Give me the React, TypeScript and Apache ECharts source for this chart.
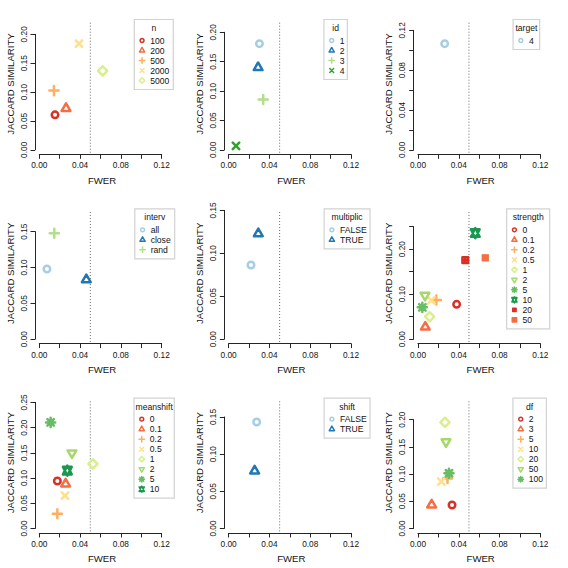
import React, { useEffect, useRef } from "react";
import * as echarts from "echarts";

// ---------- data ----------
const nLevels = ["100", "200", "500", "2000", "5000"];
const nFwer = [0.0154, 0.0262, 0.0144, 0.0389, 0.0621];
const nJaccard = [0.0605, 0.0716, 0.1026, 0.1838, 0.1366];

const idLevels = ["1", "2", "3", "4"];
const idFwer = [0.0302, 0.0289, 0.0339, 0.0072];
const idJaccard = [0.1807, 0.14, 0.0856, 0.0068];

const targetLevels = ["4"];
const targetFwer = [0.0262];
const targetJaccard = [0.1066];

const intervLevels = ["all", "close", "rand"];
const intervFwer = [0.0075, 0.0461, 0.0147];
const intervJaccard = [0.0978, 0.083, 0.1477];

const multiplicLevels = ["FALSE", "TRUE"];
const multiplicFwer = [0.0219, 0.0291];
const multiplicJaccard = [0.0863, 0.1229];

const strengthLevels = ["0", "0.1", "0.2", "0.5", "1", "2", "5", "10", "20", "50"];
const strengthFwer = [0.0379, 0.0072, 0.018, 0.0131, 0.0114, 0.0069, 0.0043, 0.0562, 0.0464, 0.066];
const strengthJaccard = [0.0773, 0.0268, 0.087, 0.086, 0.0498, 0.0973, 0.0706, 0.2357, 0.1755, 0.1807];

const meanshiftLevels = ["0", "0.1", "0.2", "0.5", "1", "2", "5", "10"];
const meanshiftFwer = [0.0177, 0.0258, 0.0177, 0.0252, 0.0526, 0.032, 0.0111, 0.0275];
const meanshiftJaccard = [0.0942, 0.0883, 0.0292, 0.065, 0.128, 0.1498, 0.2102, 0.1147];

const shiftLevels = ["FALSE", "TRUE"];
const shiftFwer = [0.0275, 0.0255];
const shiftJaccard = [0.1433, 0.0775];

const dfLevels = ["2", "3", "5", "10", "20", "50", "100"];
const dfFwer = [0.0334, 0.0134, 0.029, 0.0229, 0.0265, 0.0275, 0.0304];
const dfJaccard = [0.0431, 0.0432, 0.092, 0.0862, 0.1951, 0.1593, 0.1015];

const REF_FWER = 0.05;
const X_TITLE = "FWER";
const Y_TITLE = "JACCARD SIMILARITY";

// ---------- styles ----------
const RDYLGN8 = ["#D73027", "#F46D43", "#FDAE61", "#FEE08B", "#D9EF8B", "#A6D96A", "#66BD63", "#1A9850"];
const PAIRED = ["#A6CEE3", "#1F78B4", "#B2DF8A", "#33A02C"];
const FONT = "'Liberation Sans', Arial, Helvetica, sans-serif";
const TEXT = "#141414";
const AXIS = "#252525";

// R-like pch shapes, all in a common frame (padded so that relative sizes are kept)
const PAD = "M-60,-60 M60,60 ";
const SHAPES = [
  { d: "M37.5,0 A37.5,37.5 0 1,1 -37.5,0 A37.5,37.5 0 1,1 37.5,0 Z", filled: false },
  { d: "M0,-58.3 L50.5,29.2 L-50.5,29.2 Z", filled: false },
  { d: "M-53,0 L53,0 M0,-53 L0,53", filled: false },
  { d: "M-37.5,-37.5 L37.5,37.5 M-37.5,37.5 L37.5,-37.5", filled: false },
  { d: "M0,-53 L53,0 L0,53 L-53,0 Z", filled: false },
  { d: "M0,58.3 L50.5,-29.2 L-50.5,-29.2 Z", filled: false },
  { d: "M-53,0 L53,0 M0,-53 L0,53 M-37.5,-37.5 L37.5,37.5 M-37.5,37.5 L37.5,-37.5", filled: false },
  { d: "M0,-58.3 L50.5,43.7 L-50.5,43.7 Z M0,58.3 L50.5,-43.7 L-50.5,-43.7 Z", filled: false },
  { d: "M-33,-33 L33,-33 L33,33 L-33,33 Z M-33,0 L33,0 M0,-33 L0,33", filled: false },
  { d: "M-42,-42 L42,-42 L42,42 L-42,42 Z", filled: true },
];

type Panel = {
  title: string;
  levels: string[];
  fwer: number[];
  jac: number[];
  palette: string[];
  yMax: number;
  yStep: number;
  yLabelEvery: number;
  gridTop: number;
  boxLeft: number;
  boxRight: number;
};

const PANELS: Panel[] = [
  { title: "n", levels: nLevels, fwer: nFwer, jac: nJaccard, palette: RDYLGN8, yMax: 0.2, yStep: 0.05, yLabelEvery: 1, gridTop: 34.3, boxLeft: 134.3, boxRight: 173.3 },
  { title: "id", levels: idLevels, fwer: idFwer, jac: idJaccard, palette: PAIRED, yMax: 0.2, yStep: 0.05, yLabelEvery: 1, gridTop: 32.3, boxLeft: 134.6, boxRight: 158 },
  { title: "target", levels: targetLevels, fwer: targetFwer, jac: targetJaccard, palette: PAIRED, yMax: 0.12, yStep: 0.02, yLabelEvery: 2, gridTop: 30.3, boxLeft: 134.4, boxRight: 161 },
  { title: "interv", levels: intervLevels, fwer: intervFwer, jac: intervJaccard, palette: PAIRED, yMax: 0.15, yStep: 0.05, yLabelEvery: 1, gridTop: 42.3, boxLeft: 134.8, boxRight: 174.7 },
  { title: "multiplic", levels: multiplicLevels, fwer: multiplicFwer, jac: multiplicJaccard, palette: PAIRED, yMax: 0.15, yStep: 0.05, yLabelEvery: 1, gridTop: 21, boxLeft: 134.8, boxRight: 180.7 },
  { title: "strength", levels: strengthLevels, fwer: strengthFwer, jac: strengthJaccard, palette: RDYLGN8, yMax: 0.25, yStep: 0.05, yLabelEvery: 2, gridTop: 37.3, boxLeft: 128, boxRight: 171 },
  { title: "meanshift", levels: meanshiftLevels, fwer: meanshiftFwer, jac: meanshiftJaccard, palette: RDYLGN8, yMax: 0.25, yStep: 0.05, yLabelEvery: 1, gridTop: 23.7, boxLeft: 134, boxRight: 174.3 },
  { title: "shift", levels: shiftLevels, fwer: shiftFwer, jac: shiftJaccard, palette: PAIRED, yMax: 0.15, yStep: 0.05, yLabelEvery: 1, gridTop: 38.3, boxLeft: 134.8, boxRight: 180.7 },
  { title: "df", levels: dfLevels, fwer: dfFwer, jac: dfJaccard, palette: RDYLGN8, yMax: 0.2, yStep: 0.05, yLabelEvery: 1, gridTop: 41, boxLeft: 134.3, boxRight: 167.7 },
];

// ---------- layout ----------
const SIZE = 568;
const CELL = SIZE / 3;
const X0 = 39.3; // x of FWER = 0 inside a cell
const XW = 122.4; // width from 0 to 0.12
const Y0 = 149.8; // y of Jaccard = 0 inside a cell
const BOX_TOP = 19.5;
const PLOT_TOP = 22.7;
const PLOT_BOTTOM = 154.5;
const SYM = 10.4;
const LEG_SYM = 6.2;

const cellOf = (i: number) => ({ cx: (i % 3) * CELL, cy: Math.floor(i / 3) * CELL });

function buildOption() {
  const grid: any[] = [];
  const xAxis: any[] = [];
  const yAxis: any[] = [];
  const series: any[] = [];
  const legend: any[] = [];

  PANELS.forEach((p, i) => {
    const { cx, cy } = cellOf(i);
    grid.push({ left: cx + X0, top: cy + p.gridTop, width: XW, height: Y0 - p.gridTop, containLabel: false });
    xAxis.push({
      type: "value",
      gridIndex: i,
      min: 0,
      max: 0.12,
      interval: 0.02,
      offset: 4.5,
      axisLine: { show: true, onZero: false, lineStyle: { color: AXIS, width: 1 } },
      axisTick: { show: true, length: 4.5, lineStyle: { color: AXIS, width: 1 } },
      axisLabel: {
        fontSize: 8.3,
        fontFamily: FONT,
        color: TEXT,
        margin: 7,
        formatter: (v: number) => (Math.round(v / 0.02) % 2 === 0 ? v.toFixed(2) : ""),
      },
      splitLine: { show: false },
    });
    yAxis.push({
      type: "value",
      gridIndex: i,
      min: 0,
      max: p.yMax,
      interval: p.yStep,
      offset: 4.3,
      axisLine: { show: true, onZero: false, lineStyle: { color: AXIS, width: 1 } },
      axisTick: { show: true, length: 4.5, lineStyle: { color: AXIS, width: 1 } },
      axisLabel: {
        rotate: 90,
        fontSize: 8.3,
        fontFamily: FONT,
        color: TEXT,
        margin: 7.5,
        formatter: (v: number) => (Math.round(v / p.yStep) % p.yLabelEvery === 0 ? v.toFixed(2) : ""),
      },
      splitLine: { show: false },
    });

    const names: string[] = [];
    p.levels.forEach((lv, j) => {
      const shape = SHAPES[j % SHAPES.length];
      const col = p.palette[j % p.palette.length];
      const name = `${i}|${lv}`;
      names.push(name);
      series.push({
        type: "scatter",
        name,
        xAxisIndex: i,
        yAxisIndex: i,
        data: [[p.fwer[j], p.jac[j]]],
        symbol: "path://" + PAD + shape.d,
        symbolSize: SYM,
        symbolKeepAspect: true,
        silent: true,
        z: 3,
        itemStyle: {
          color: shape.filled ? col : "rgba(0,0,0,0)",
          borderColor: col,
          borderWidth: shape.filled ? 0 : 2.5,
          borderJoin: "round",
          borderCap: "round",
          opacity: 1,
        },
        emphasis: { disabled: true },
      });
    });

    legend.push({
      show: true,
      orient: "vertical",
      left: cx + p.boxLeft + 7 - LEG_SYM / 2,
      top: cy + BOX_TOP + 21 - 5,
      itemWidth: LEG_SYM,
      itemHeight: LEG_SYM,
      itemGap: 0,
      padding: 0,
      selectedMode: false,
      symbolKeepAspect: true,
      data: names,
      formatter: (name: string) => name.split("|")[1],
      textStyle: { fontSize: 8.6, fontFamily: FONT, color: TEXT, lineHeight: 10 },
      itemStyle: { borderWidth: 1.5, borderJoin: "round", borderCap: "round" },
    });
  });

  return {
    animation: false,
    backgroundColor: "#ffffff",
    textStyle: { fontFamily: FONT },
    grid,
    xAxis,
    yAxis,
    series,
    legend,
  };
}

function buildGraphics(refX: number[]) {
  const els: any[] = [];
  PANELS.forEach((p, i) => {
    const { cx, cy } = cellOf(i);
    els.push({
      type: "line",
      z: 1,
      silent: true,
      shape: { x1: refX[i], y1: cy + PLOT_TOP, x2: refX[i], y2: cy + PLOT_BOTTOM },
      style: { stroke: "#6a6a6a", lineWidth: 1, lineDash: [1, 2] },
    });
    els.push({
      type: "text",
      x: cx + 102,
      y: cy + 180,
      silent: true,
      style: { text: X_TITLE, fontSize: 9.6, fontFamily: FONT, fill: TEXT, textAlign: "center", textVerticalAlign: "middle" },
    });
    els.push({
      type: "text",
      x: cx + 10,
      y: cy + 84,
      rotation: Math.PI / 2,
      silent: true,
      style: { text: Y_TITLE, fontSize: 9.6, fontFamily: FONT, fill: TEXT, textAlign: "center", textVerticalAlign: "middle" },
    });
    const n = p.levels.length;
    els.push({
      type: "rect",
      z: 1,
      silent: true,
      shape: { x: cx + p.boxLeft, y: cy + BOX_TOP, width: p.boxRight - p.boxLeft, height: 10 * n + 20 },
      style: { fill: "#ffffff", stroke: "#d2d2d2", lineWidth: 1.2 },
    });
    els.push({
      type: "text",
      z: 5,
      x: cx + (p.boxLeft + p.boxRight) / 2,
      y: cy + BOX_TOP + 8.5,
      silent: true,
      style: { text: p.title, fontSize: 8.6, fontFamily: FONT, fill: TEXT, textAlign: "center", textVerticalAlign: "middle" },
    });
  });
  return els;
}

export default function App() {
  const ref = useRef<HTMLDivElement>(null);
  useEffect(() => {
    if (!ref.current) return;
    const chart = echarts.init(ref.current, undefined, { renderer: "svg" });
    chart.setOption(buildOption() as any);
    const refX = PANELS.map((_, i) => {
      const v = chart.convertToPixel({ xAxisIndex: i } as any, REF_FWER) as any;
      return typeof v === "number" ? v : cellOf(i).cx + X0 + (REF_FWER / 0.12) * XW;
    });
    chart.setOption({ graphic: { elements: buildGraphics(refX) } } as any);
    return () => chart.dispose();
  }, []);
  return (
    <div
      ref={ref}
      style={{ position: "fixed", left: 0, top: 0, width: SIZE, height: SIZE, background: "#fff" }}
    />
  );
}
